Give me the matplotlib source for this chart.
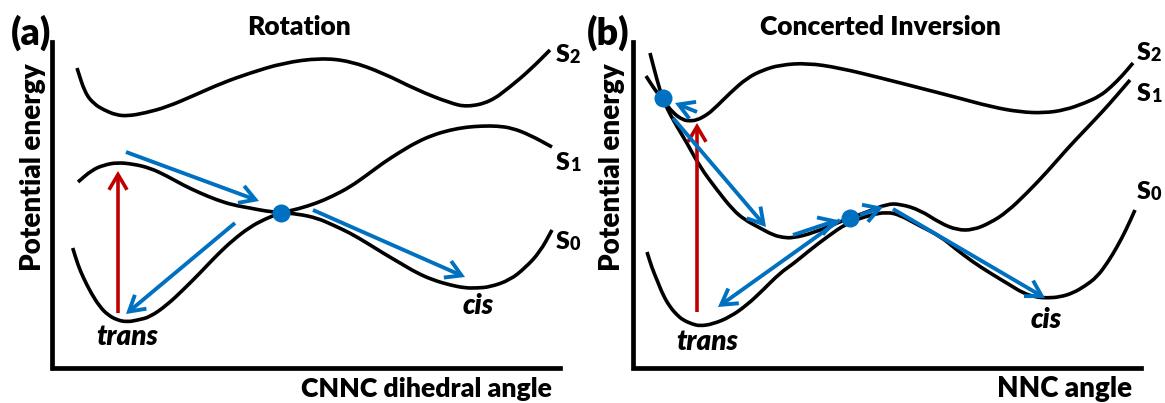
import matplotlib
matplotlib.use('Agg')
import matplotlib.pyplot as plt
from matplotlib.patches import FancyArrowPatch, PathPatch
from matplotlib.path import Path

plt.rcParams['font.family'] = ['Lato', 'DejaVu Sans']

# schematic in image pixel units (x to the right, y downwards)
W, H = 1165, 403

# ---- panel (a): rotation ----
a_s2_x = [77, 85, 94, 104, 116, 128, 145, 167, 195, 222, 250, 283, 320, 350, 383, 417, 450, 467, 490, 510, 530, 550]
a_s2_y = [68, 93, 104, 110, 115, 116, 113, 107, 95, 83, 73, 63, 58, 61, 73, 90, 103, 107, 102, 87, 70, 50]

a_s1_x = [78, 92, 104, 117, 133, 150, 167, 183, 200, 217, 233, 250, 265, 281, 298, 317, 333, 350, 367, 383, 400, 417, 433, 450, 467, 483, 497, 512, 530, 552]
a_s1_y = [182, 170, 165, 162.5, 164, 168, 176, 185, 193, 200, 205, 208, 211, 212.7, 209, 203, 196, 187, 175, 163, 152, 142, 135, 130, 127, 126, 126, 128, 135, 147]

a_s0_x = [72.7, 78, 83, 91, 100, 108, 117, 127, 138, 150, 167, 183, 200, 217, 233, 250, 265, 281, 298, 317, 333, 350, 367, 383, 400, 417, 433, 450, 465, 477, 490, 510, 525, 540, 552]
a_s0_y = [248, 265, 277, 293, 307, 315, 320, 322, 320, 317, 305, 290, 273, 255, 240, 227, 219, 212.7, 214, 218, 225, 233, 243, 253, 263, 273, 280, 285, 288, 288, 287, 280, 268, 252, 230]

a_red = (118, 313, 118, 171)
a_blue = [(126, 152, 259, 201),
          (235, 223, 126, 314),
          (313, 210, 465, 277)]
a_dot = (281, 212.7)

# ---- panel (b): concerted inversion ----
b_s2_x = [646, 655, 663, 673, 683, 690, 697, 705, 713, 730, 747, 763, 780, 807, 840, 881, 920, 955, 992, 1020, 1044, 1065, 1085, 1100, 1111, 1122, 1133]
b_s2_y = [76, 90, 100, 113, 120, 121, 120, 116, 110, 93, 78, 70, 65, 63, 68, 78, 88, 97, 107, 112, 113, 110, 103, 96, 87, 76, 63]

b_s1_x = [650, 657, 663, 673, 687, 700, 717, 733, 745, 760, 773, 783, 793, 813, 837, 850, 867, 887, 900, 920, 940, 957, 973, 990, 1007, 1027, 1047, 1067, 1085, 1104, 1118, 1130]
b_s1_y = [53, 80, 100, 120, 143, 167, 190, 210, 220, 228, 235, 237.5, 238, 233, 223, 218, 212, 204, 204, 210, 223, 230, 230, 223, 212, 193, 172, 149, 130, 110, 94, 80]

b_s0_x = [647, 652, 657, 663, 670, 677, 683, 692, 700, 713, 730, 747, 763, 780, 793, 810, 827, 847, 870, 887, 900, 918, 940, 957, 973, 990, 1010, 1023, 1035, 1047, 1060, 1073, 1085, 1097, 1108, 1117, 1126, 1135]
b_s0_y = [252, 268, 280, 295, 307, 315, 320, 324, 326, 324, 317, 305, 290, 273, 264, 250, 237, 223, 215, 212, 215, 225, 236, 250, 262, 273, 285, 293, 297, 298, 297, 293, 286, 277, 262, 247, 230, 210]

b_red = (697, 312, 697, 123)
b_blue = [(697, 112, 675, 103),
          (673, 118, 766, 227),
          (793, 235, 838, 220),
          (840, 220, 718, 307),
          (860, 215, 883, 207),
          (893, 209, 1045, 298)]
b_dots = [(663, 98), (850, 218)]

BLUE = '#0070C0'
RED = '#C00000'
WEIGHT = 'heavy'

fig = plt.figure(figsize=(W / 100, H / 100), dpi=100)
ax = fig.add_axes([0, 0, 1, 1])
ax.set_xlim(0, W)
ax.set_ylim(H, 0)
ax.axis('off')


def smooth_curve(xs, ys):
    # quadratic bezier through the midpoints, read points act as control points
    pts = list(zip(xs, ys))
    verts = [pts[0]]
    codes = [Path.MOVETO]
    mid = lambda p, q: ((p[0] + q[0]) / 2, (p[1] + q[1]) / 2)
    verts.append(mid(pts[0], pts[1]))
    codes.append(Path.LINETO)
    for i in range(1, len(pts) - 1):
        verts += [pts[i], mid(pts[i], pts[i + 1])]
        codes += [Path.CURVE3, Path.CURVE3]
    verts.append(pts[-1])
    codes.append(Path.LINETO)
    ax.add_patch(PathPatch(Path(verts, codes), fill=False, ec='black', lw=2.6,
                           capstyle='butt', joinstyle='round'))


def arrow(seg, color, lw=2.8):
    x0, y0, x1, y1 = seg
    ax.add_patch(FancyArrowPatch((x0, y0), (x1, y1), arrowstyle='->,head_length=1.1,head_width=0.65',
                                 mutation_scale=10, lw=lw, color=color,
                                 shrinkA=0, shrinkB=0, joinstyle='miter', capstyle='butt'))


def s_label(x, y, digit):
    s = ax.text(x, y, 'S', fontsize=18, fontweight=WEIGHT, ha='left', va='center')
    ax.annotate(digit, xy=(1.0, 0.0), xycoords=s, fontsize=13, fontweight=WEIGHT,
                ha='left', va='bottom')


for cx, cy in [(a_s2_x, a_s2_y), (a_s1_x, a_s1_y), (a_s0_x, a_s0_y),
               (b_s2_x, b_s2_y), (b_s1_x, b_s1_y), (b_s0_x, b_s0_y)]:
    smooth_curve(cx, cy)

# axes frames
ax.plot([52, 52, 560], [42, 368, 368], color='black', lw=3.4, solid_joinstyle='miter')
ax.plot([633, 633, 1141], [42, 368, 368], color='black', lw=3.4, solid_joinstyle='miter')

arrow(a_red, RED, lw=2.6)
for seg in a_blue:
    arrow(seg, BLUE)
arrow(b_red, RED, lw=2.6)
for seg in b_blue:
    arrow(seg, BLUE)

ax.plot(*a_dot, 'o', color=BLUE, ms=13, mec='none')
for d in b_dots:
    ax.plot(*d, 'o', color=BLUE, ms=13, mec='none')

# titles and labels
ax.text(31, 33, '(a)', fontsize=27, fontweight=WEIGHT, ha='center', va='center')
ax.text(608, 33, '(b)', fontsize=27, fontweight=WEIGHT, ha='center', va='center')
ax.text(299, 27, 'Rotation', fontsize=19, fontweight=WEIGHT, ha='center', va='center')
ax.text(880, 27, 'Concerted Inversion', fontsize=19, fontweight=WEIGHT, ha='center', va='center')
ax.text(33, 167, 'Potential energy', fontsize=20, fontweight=WEIGHT, ha='center', va='center', rotation=90)
ax.text(612, 167, 'Potential energy', fontsize=20, fontweight=WEIGHT, ha='center', va='center', rotation=90)
ax.text(552, 389, 'CNNC dihedral angle', fontsize=19.2, fontweight=WEIGHT, ha='right', va='center')
ax.text(1132, 389, 'NNC angle', fontsize=20, fontweight=WEIGHT, ha='right', va='center')

ax.text(127, 337, 'trans', fontsize=20, fontweight=WEIGHT, style='italic', ha='center', va='center')
ax.text(478, 306, 'cis', fontsize=20, fontweight=WEIGHT, style='italic', ha='center', va='center')
ax.text(707, 342, 'trans', fontsize=20, fontweight=WEIGHT, style='italic', ha='center', va='center')
ax.text(1046, 320, 'cis', fontsize=20, fontweight=WEIGHT, style='italic', ha='center', va='center')

s_label(556, 55, '2')
s_label(556, 163, '1')
s_label(556, 242, '0')
s_label(1137, 53, '2')
s_label(1137, 94, '1')
s_label(1137, 192, '0')

fig.savefig('out.png', dpi=100)
